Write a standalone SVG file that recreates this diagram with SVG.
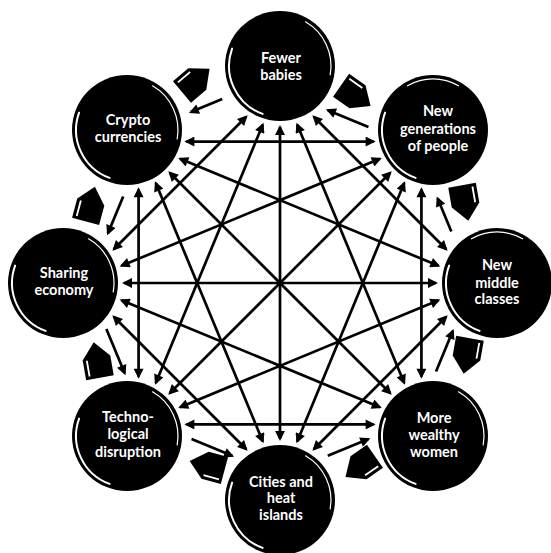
<svg xmlns="http://www.w3.org/2000/svg" xmlns:xlink="http://www.w3.org/1999/xlink" width="551" height="553" viewBox="0 0 551 553">
  <style>
    .node { fill: #000; }
    .hl { fill: none; stroke: #fff; stroke-width: 2; stroke-linecap: round; }
    .hl2 { fill: none; stroke: #fff; stroke-width: 1.2; stroke-linecap: round; }
    .lbl { fill: #fff; font-family: Lato, "Open Sans", "Liberation Sans", sans-serif; font-weight: bold; font-size: 14.5px; text-anchor: middle; }
    .ln { stroke: #000; stroke-width: 2.7; fill: none; }
    .dbl { marker-start: url(#ah); marker-end: url(#ah); }
    .one { marker-end: url(#ah); }
    .blk { fill: #000; }
    .stripe { stroke: #fff; stroke-width: 1.8; fill: none; }
  </style>
  <defs>
    <marker id="ah" viewBox="0 0 10 10" refX="8" refY="5" markerWidth="11" markerHeight="10" markerUnits="userSpaceOnUse" orient="auto-start-reverse">
      <path d="M0,0 L10,5 L0,10 z" fill="#000"/>
    </marker>
    <g id="blockarrow">
      <polygon class="blk" points="-17,-14 3,-14 19,0 3,14 -17,14"/>
      <line class="stripe" x1="-14" y1="-10" x2="2" y2="-10"/>
    </g>
  </defs>
  <rect width="551" height="553" fill="#fff"/>

  <g id="connectors">
    <!-- span of two (90 degrees) -->
    <line class="ln dbl" x1="186.36" y1="424.42" x2="373.64" y2="424.42" transform="rotate(-135 280 283)"/>
    <line class="ln dbl" x1="186.36" y1="424.42" x2="373.64" y2="424.42" transform="rotate(-90 280 283)"/>
    <line class="ln dbl" x1="186.36" y1="424.42" x2="373.64" y2="424.42" transform="rotate(-45 280 283)"/>
    <line class="ln dbl" x1="186.36" y1="424.42" x2="373.64" y2="424.42"/>
    <line class="ln dbl" x1="186.36" y1="424.42" x2="373.64" y2="424.42" transform="rotate(45 280 283)"/>
    <line class="ln dbl" x1="186.36" y1="424.42" x2="373.64" y2="424.42" transform="rotate(90 280 283)"/>
    <line class="ln dbl" x1="186.36" y1="424.42" x2="373.64" y2="424.42" transform="rotate(135 280 283)"/>
    <line class="ln dbl" x1="186.36" y1="424.42" x2="373.64" y2="424.42" transform="rotate(180 280 283)"/>
    <!-- span of three (135 degrees) -->
    <line class="ln dbl" x1="140.16" y1="359.54" x2="419.84" y2="359.54" transform="rotate(-112.5 280 283)"/>
    <line class="ln dbl" x1="140.16" y1="359.54" x2="419.84" y2="359.54" transform="rotate(-67.5 280 283)"/>
    <line class="ln dbl" x1="140.16" y1="359.54" x2="419.84" y2="359.54" transform="rotate(-22.5 280 283)"/>
    <line class="ln dbl" x1="140.16" y1="359.54" x2="419.84" y2="359.54" transform="rotate(22.5 280 283)"/>
    <line class="ln dbl" x1="140.16" y1="359.54" x2="419.84" y2="359.54" transform="rotate(67.5 280 283)"/>
    <line class="ln dbl" x1="140.16" y1="359.54" x2="419.84" y2="359.54" transform="rotate(112.5 280 283)"/>
    <line class="ln dbl" x1="140.16" y1="359.54" x2="419.84" y2="359.54" transform="rotate(157.5 280 283)"/>
    <line class="ln dbl" x1="140.16" y1="359.54" x2="419.84" y2="359.54" transform="rotate(202.5 280 283)"/>
    <!-- diameters -->
    <line class="ln dbl" x1="124" y1="283" x2="436" y2="283" transform="rotate(-90 280 283)"/>
    <line class="ln dbl" x1="124" y1="283" x2="436" y2="283" transform="rotate(-45 280 283)"/>
    <line class="ln dbl" x1="124" y1="283" x2="436" y2="283"/>
    <line class="ln dbl" x1="124" y1="283" x2="436" y2="283" transform="rotate(45 280 283)"/>
    <!-- neighbours, counter-clockwise single arrows -->
    <line class="ln one" x1="258" y1="461" x2="302" y2="461" transform="rotate(202.5 280 283)"/>
    <line class="ln one" x1="263" y1="475" x2="297" y2="475" transform="rotate(157.5 280 283)"/>
    <line class="ln one" x1="260" y1="461" x2="300" y2="461" transform="rotate(112.5 280 283)"/>
    <line class="ln one" x1="256" y1="461" x2="304" y2="461" transform="rotate(67.5 280 283)"/>
    <line class="ln one" x1="258" y1="461" x2="302" y2="461" transform="rotate(22.5 280 283)"/>
    <line class="ln one" x1="258" y1="461" x2="302" y2="461" transform="rotate(-22.5 280 283)"/>
    <line class="ln one" x1="258" y1="461" x2="302" y2="461" transform="rotate(-67.5 280 283)"/>
    <line class="ln one" x1="262" y1="461" x2="298" y2="461" transform="rotate(-112.5 280 283)"/>
    <!-- clockwise block arrows -->
    <g id="flow-arrows">
      <use xlink:href="#blockarrow" href="#blockarrow" transform="translate(195,81) rotate(320)"/>
      <use xlink:href="#blockarrow" href="#blockarrow" transform="translate(355,95) rotate(35)"/>
      <use xlink:href="#blockarrow" href="#blockarrow" transform="translate(465,202) rotate(80)"/>
      <use xlink:href="#blockarrow" href="#blockarrow" transform="translate(467,355) rotate(100)"/>
      <use xlink:href="#blockarrow" href="#blockarrow" transform="translate(361,466) rotate(145)"/>
      <use xlink:href="#blockarrow" href="#blockarrow" transform="translate(208,466) rotate(195)"/>
      <use xlink:href="#blockarrow" href="#blockarrow" transform="translate(97,361) rotate(260)"/>
      <use xlink:href="#blockarrow" href="#blockarrow" transform="translate(90,205) rotate(285)"/>
    </g>
  </g>

  <g id="node-fewer-babies" transform="translate(280,66)">
    <circle class="node" r="55"/>
    <path class="hl" d="M-17.4,47.9 A51,51 0 0 1 -47.9,-17.4"/>
    <path class="hl2" d="M25.5,-44.2 A51,51 0 0 1 50.2,8.9"/>
    <text class="lbl" x="1" y="-3">Fewer</text>
    <text class="lbl" x="1" y="14">babies</text>
  </g>

  <g id="node-new-generations" transform="translate(433,130)">
    <circle class="node" r="55"/>
    <path class="hl" d="M-17.4,47.9 A51,51 0 0 1 -47.9,-17.4"/>
    <path class="hl2" d="M-25.5,-44.2 A51,51 0 0 1 25.5,-44.2"/>
    <text class="lbl" x="5" y="-14">New</text>
    <text class="lbl" x="5" y="4">generations</text>
    <text class="lbl" x="5" y="21">of people</text>
  </g>

  <g id="node-new-middle-classes" transform="translate(497,283)">
    <circle class="node" r="55"/>
    <path class="hl" d="M-17.4,47.9 A51,51 0 0 1 -47.9,-17.4"/>
    <path class="hl2" d="M-25.5,-44.2 A51,51 0 0 1 25.5,-44.2"/>
    <text class="lbl" x="0" y="-13">New</text>
    <text class="lbl" x="0" y="5">middle</text>
    <text class="lbl" x="0" y="21">classes</text>
  </g>

  <g id="node-more-wealthy-women" transform="translate(433,436)">
    <circle class="node" r="55"/>
    <path class="hl" d="M-17.4,47.9 A51,51 0 0 1 -47.9,-17.4"/>
    <path class="hl2" d="M25.5,-44.2 A51,51 0 0 1 50.2,8.9"/>
    <text class="lbl" x="1" y="-13">More</text>
    <text class="lbl" x="1" y="4">wealthy</text>
    <text class="lbl" x="1" y="21">women</text>
  </g>

  <g id="node-cities-heat-islands" transform="translate(280,500)">
    <circle class="node" r="55"/>
    <path class="hl" d="M-17.4,47.9 A51,51 0 0 1 -47.9,-17.4"/>
    <path class="hl2" d="M25.5,-44.2 A51,51 0 0 1 50.2,8.9"/>
    <text class="lbl" x="1" y="-13">Cities and</text>
    <text class="lbl" x="1" y="3">heat</text>
    <text class="lbl" x="1" y="20">islands</text>
  </g>

  <g id="node-technological-disruption" transform="translate(127,436)">
    <circle class="node" r="55"/>
    <path class="hl" d="M-17.4,47.9 A51,51 0 0 1 -47.9,-17.4"/>
    <path class="hl2" d="M25.5,-44.2 A51,51 0 0 1 50.2,8.9"/>
    <text class="lbl" x="1" y="-14">Techno-</text>
    <text class="lbl" x="1" y="3">logical</text>
    <text class="lbl" x="1" y="21">disruption</text>
  </g>

  <g id="node-sharing-economy" transform="translate(63,283)">
    <circle class="node" r="55"/>
    <path class="hl" d="M-17.4,47.9 A51,51 0 0 1 -47.9,-17.4"/>
    <path class="hl2" d="M25.5,-44.2 A51,51 0 0 1 50.2,8.9"/>
    <text class="lbl" x="1" y="-5">Sharing</text>
    <text class="lbl" x="1" y="12">economy</text>
  </g>

  <g id="node-crypto-currencies" transform="translate(127,130)">
    <circle class="node" r="55"/>
    <path class="hl" d="M-17.4,47.9 A51,51 0 0 1 -47.9,-17.4"/>
    <path class="hl2" d="M25.5,-44.2 A51,51 0 0 1 50.2,8.9"/>
    <text class="lbl" x="1" y="-5">Crypto</text>
    <text class="lbl" x="1" y="12">currencies</text>
  </g>
</svg>
